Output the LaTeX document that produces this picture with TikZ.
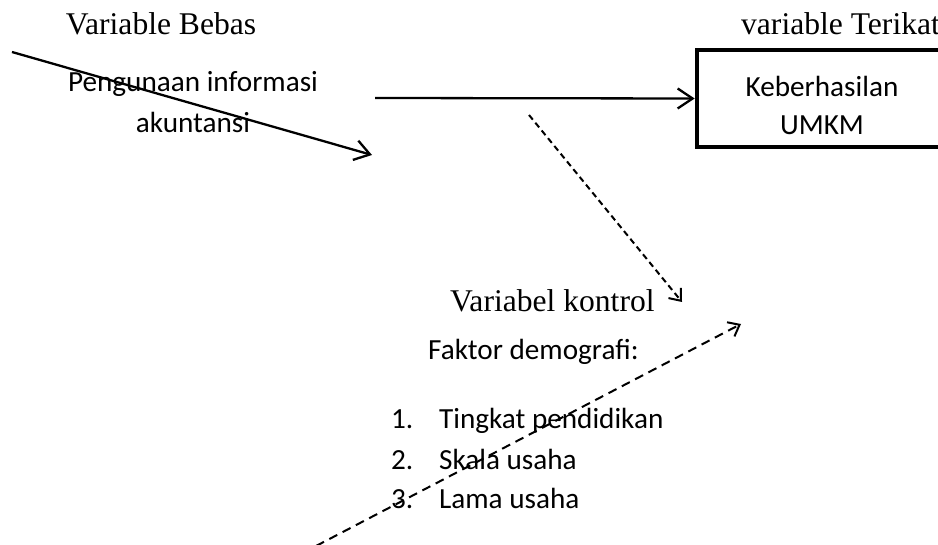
\documentclass[tikz,border=0pt]{standalone}
\usepackage{fontspec}
\setmainfont{Liberation Serif}
\newfontfamily\calibri{Carlito}
\usetikzlibrary{arrows.meta, positioning}

\tikzset{
  serif label/.style={font=\fontsize{15.8}{18}\selectfont, inner sep=0pt},
  body text/.style={font=\calibri\fontsize{14.6}{19}\selectfont, inner sep=0pt},
  open tip/.style={-{Straight Barb[length=7.5pt,width=10pt]}},
  small tip/.style={-{Straight Barb[length=5pt,width=8pt]}},
}

\begin{document}
\begin{tikzpicture}[x=0.5pt, y=-0.5pt, line width=1.15pt]
    \useasboundingbox (0,0) rectangle (938,545);

    % variable headings
    \node[serif label, anchor=base] (Bebas) at (161,35) {Variable Bebas};
    \node[serif label, anchor=base west] (Terikat) at (740,35) {variable Terikat};

    \node[body text, anchor=base] (InfoTop) at (193,92) {Pengunaan informasi};
    \node[body text, anchor=base] (InfoBot) at (193,133) {akuntansi};

    \node[draw, line width=2.3pt, minimum width=125pt, minimum height=48.5pt, inner sep=0pt] (Sukses) at (822,98.5) {};
    \node[body text, anchor=base] (SuksesTop) at (822,97) {Keberhasilan};
    \node[body text, anchor=base] (SuksesBot) at (822,135) {UMKM};

    \coordinate (DiagStart) at (12,52);
    \coordinate (DiagEnd) at (372,155);
    \draw[open tip] (DiagStart) -- (DiagEnd);

    \coordinate (LinkStart) at (375,98);
    \draw[open tip] (LinkStart) -- (Sukses.west);

    % control variable
    \node[serif label, anchor=base west] (Kontrol) at (449,312) {Variabel kontrol};
    \node[body text, anchor=base west] (Faktor) at (427,360) {Faktor demografi:};

    \node[body text, anchor=base west] (NumA) at (390,429) {1.};
    \node[body text, anchor=base west] (ItemA) at (438,429) {Tingkat pendidikan};
    \node[body text, anchor=base west] (NumB) at (390,470) {2.};
    \node[body text, anchor=base west] (ItemB) at (438,470) {Skala usaha};
    \node[body text, anchor=base west] (NumC) at (390,509) {3.};
    \node[body text, anchor=base west] (ItemC) at (438,509) {Lama usaha};

    \coordinate (DashAStart) at (529,115);
    \coordinate (DashAEnd) at (682,302);
    \draw[small tip, line width=1pt, dash pattern=on 3pt off 2pt] (DashAStart) -- (DashAEnd);

    \coordinate (DashBStart) at (316,546);
    \coordinate (DashBEnd) at (741,324);
    \draw[small tip, line width=1pt, dash pattern=on 4.5pt off 3pt] (DashBStart) -- (DashBEnd);
\end{tikzpicture}
\end{document}
